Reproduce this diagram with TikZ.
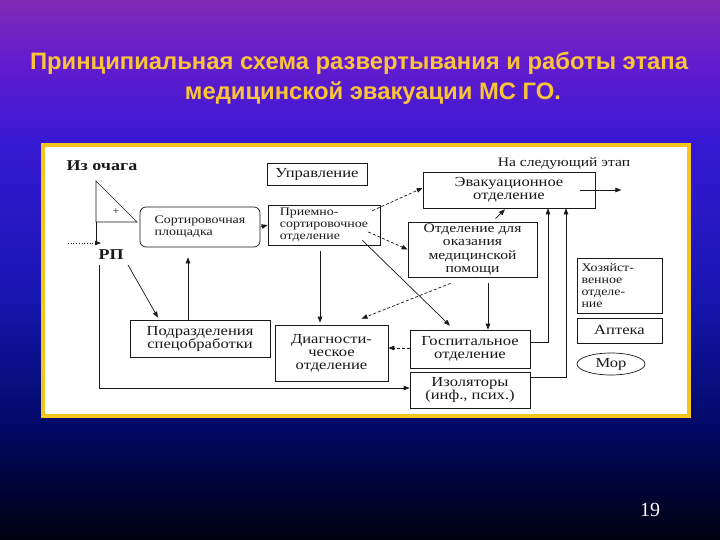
\documentclass[tikz,border=0pt]{standalone}
\usepackage{fontspec}
\setmainfont{Liberation Serif}
\newfontfamily\titlefont{Liberation Sans}
\newfontfamily\diagfont[FakeStretch=1.2]{Liberation Serif}
\usetikzlibrary{arrows.meta,calc,shapes.geometric}
\definecolor{bgA}{RGB}{0,0,14}
\definecolor{bgB}{RGB}{0,8,100}
\definecolor{bgC}{RGB}{22,22,175}
\definecolor{bgD}{RGB}{55,25,212}
\definecolor{bgE}{RGB}{100,28,205}
\definecolor{bgF}{RGB}{128,42,180}
\definecolor{titleyellow}{RGB}{250,196,58}
\definecolor{frameyellow}{RGB}{245,197,30}
\definecolor{inkgray}{RGB}{25,25,25}
\pgfdeclareverticalshading{slidebg}{100bp}{color(0bp)=(bgA); color(25bp)=(bgA); color(35.2bp)=(bgB); color(47.2bp)=(bgC); color(62bp)=(bgD); color(69.4bp)=(bgE); color(75bp)=(bgF); color(100bp)=(bgF)}
\newcommand\dgfont{\diagfont\fontsize{13.8}{13}\selectfont}
\newcommand\dgmid{\diagfont\fontsize{13}{13.3}\selectfont}
\newcommand\dgsmall{\diagfont\fontsize{11.6}{11.8}\selectfont}
\begin{document}
\begin{tikzpicture}[x=1pt,y=-1pt,
  titlestyle/.style={text=titleyellow,font=\titlefont\bfseries\fontsize{23.8}{26}\selectfont,inner sep=0pt},
  box/.style={draw=inkgray,line width=0.7pt,fill=white,text=inkgray,font=\dgfont,align=center,inner sep=1pt},
  lbl/.style={text=inkgray,font=\dgfont,inner sep=0pt},
  arr/.style={draw=inkgray,line width=0.7pt,-{Triangle[length=6pt,width=4.5pt]}},
  dsh/.style={densely dashed}
]
\useasboundingbox (0,0) rectangle (720,540);
\shade[shading=slidebg] (0,0) rectangle (720,540);
% title
\node[titlestyle] (t1) at (359,63) {Принципиальная схема развертывания и работы этапа};
\node[titlestyle] (t2) at (373,93) {медицинской эвакуации МС ГО.};
% frame
\draw[line width=4pt,draw=frameyellow,fill=white] (43,145) rectangle (689,416);
% page number
\node[text=white,font=\fontsize{20}{22}\selectfont,inner sep=0pt] (pg) at (650,510) {19};
% text labels
\node[lbl,font=\diagfont\bfseries\fontsize{15}{15}\selectfont] (ochag) at (102,166) {Из очага};
\node[lbl,font=\diagfont\bfseries\fontsize{15}{15}\selectfont] (rp) at (111,255) {РП};
\node[lbl,font=\dgmid] (next) at (564,163) {На следующий этап};
% flag
\draw[draw=inkgray,line width=0.7pt] (96,181) -- (96,222) -- (137,222) -- cycle;
\draw[draw=inkgray,line width=0.7pt] (96,222) -- (96,241);
\node[lbl,font=\diagfont\fontsize{10}{10}\selectfont] (plus) at (116,212) {+};
\coordinate (inA) at (68,243);
\coordinate (inB) at (101,243);
\draw[arr,dotted] (inA) -- (inB);
% boxes
\node[box,minimum width=100pt,minimum height=22pt] (upr) at (317,174) {Управление};
\node[box,minimum width=172pt,minimum height=36pt] (evak) at (509,190) {Эвакуационное\\отделение};
\node[box,rounded corners=6pt,minimum width=120pt,minimum height=40pt,font=\dgsmall,align=left] (sort) at (200,227) {Сортировочная\\площадка};
\node[box,minimum width=112pt,minimum height=40pt,align=left,font=\dgsmall] (prsort) at (324,225) {Приемно-\\сортировочное\\отделение};
\node[box,minimum width=129pt,minimum height=55pt,font=\dgmid] (omp) at (472.5,249.5) {Отделение для\\оказания\\медицинской\\помощи};
\node[box,minimum width=85pt,minimum height=55pt,align=left,font=\dgsmall,text width=76pt] (hoz) at (619.5,285.5) {Хозяйст-\\венное\\отделе-\\ние};
\node[box,minimum width=85pt,minimum height=25pt] (apt) at (619.5,330.5) {Аптека};
\node[box,ellipse,minimum width=68pt,minimum height=22pt,inner sep=0pt] (mor) at (611,364) {Мор};
\node[box,minimum width=140pt,minimum height=37pt] (podr) at (200,338.5) {Подразделения\\спецобработки};
\node[box,minimum width=113pt,minimum height=56pt] (diag) at (331.5,353) {Диагности-\\ческое\\отделение};
\node[box,minimum width=120pt,minimum height=38pt] (gosp) at (470,349) {Госпитальное\\отделение};
\node[box,minimum width=120pt,minimum height=36pt] (izol) at (470,390) {Изоляторы\\(инф., псих.)};
% connectors
\draw[arr] (sort.east) -- (prsort.west);
\draw[arr,dsh] ($(prsort.north east)+(-8,6)$) -- ($(evak.west)+(0,-2)$);
\draw[arr,dsh] ($(prsort.east)+(-12,7)$) -- (omp.west);
\draw[arr] ($(omp.north)+(23,-3)$) -- ($(evak.south)+(-4,1)$);
\draw[arr] ($(gosp.east)+(0,-7)$) -| ($(evak.south)+(39,0)$);
\draw[arr] ($(izol.east)+(0,-13)$) -| ($(evak.south)+(57,0)$);
\draw[arr] ($(omp.south)+(15.5,6)$) -- ($(gosp.north)+(18,0)$);
\draw[arr,dsh] ($(omp.south)+(-22,6)$) -- ($(diag.north)+(30,-6)$);
\draw[arr] ($(prsort.south east)+(-18,-5)$) -- ($(gosp.north)+(-20,-4)$);
\draw[arr] ($(prsort.south)+(-4,6)$) -- ($(diag.north)+(-11.5,-2)$);
\draw[arr,dsh] ($(gosp.west)+(0,-1)$) -- ($(diag.east)+(0,-5)$);
\draw[arr] ($(rp)+(17,10)$) -- ($(podr.north)+(-42,-2)$);
\draw[arr] ($(podr.north)+(-12,0)$) -- ($(sort.south)+(-12,10)$);
\draw[arr] ($(rp)+(-12,10)$) |- ($(izol.west)+(0,-2)$);
\draw[arr] ($(evak.east)+(-15,0)$) -- ($(evak.east)+(26,0)$);
\end{tikzpicture}
\end{document}
